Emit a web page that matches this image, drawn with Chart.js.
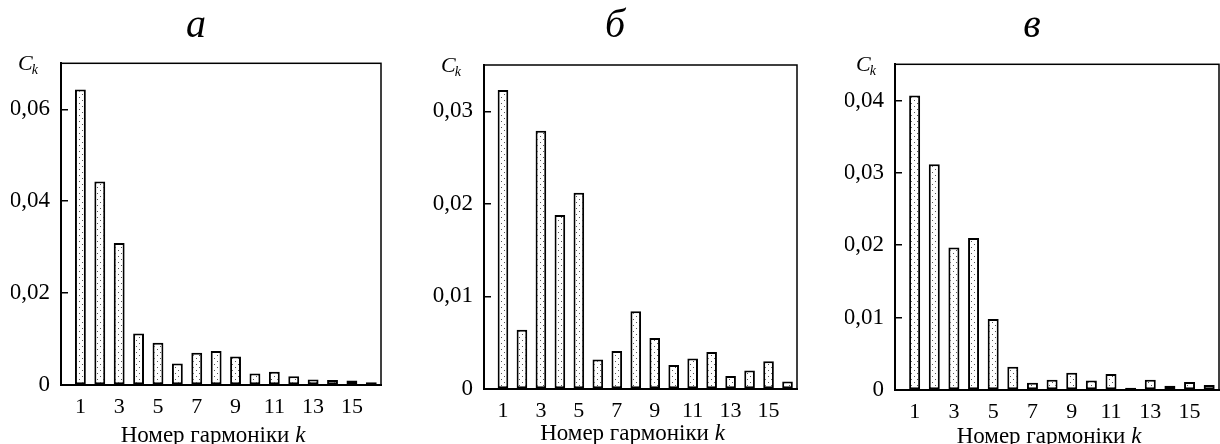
<!DOCTYPE html>
<html>
<head>
<meta charset="utf-8">
<script src="https://cdn.jsdelivr.net/npm/chart.js@4"></script>
<style>
  body { margin: 0; background: #fff; }
  .panel { position: absolute; top: 0; height: 444px; }
</style>
</head>
<body>
<div class="panel" style="left:0px;width:392px"><canvas id="chartA"></canvas></div>
<div class="panel" style="left:410px;width:410px"><canvas id="chartB"></canvas></div>
<div class="panel" style="left:844px;width:376px"><canvas id="chartC"></canvas></div>
<script>
// harmonic numbers k
const harmonics = [1, 2, 3, 4, 5, 6, 7, 8, 9, 10, 11, 12, 13, 14, 15, 16];
const xTickValues = [1, 3, 5, 7, 9, 11, 13, 15];

// amplitudes C_k
const valuesA = [0.0643, 0.0443, 0.0309, 0.0112, 0.0092, 0.0047, 0.0070, 0.0074,
                 0.0062, 0.0025, 0.0029, 0.0019, 0.0012, 0.0011, 0.0010, 0.0006];
const valuesB = [0.0323, 0.0064, 0.0279, 0.0188, 0.0212, 0.0032, 0.0041, 0.0084,
                 0.0055, 0.0026, 0.0033, 0.0040, 0.0014, 0.0020, 0.0030, 0.0008];
const valuesC = [0.0407, 0.0312, 0.0197, 0.0210, 0.0098, 0.0032, 0.0010, 0.0014,
                 0.0024, 0.0013, 0.0022, 0.0003, 0.0014, 0.0006, 0.0011, 0.0007];

const yTicksA = [0, 0.02, 0.04, 0.06];
const yTicksB = [0, 0.01, 0.02, 0.03];
const yTicksC = [0, 0.01, 0.02, 0.03, 0.04];

const titles = ['а', 'б', 'в'];
const xTitle = 'Номер гармоніки ';
const xTitleVar = 'k';

const SERIF = "'Liberation Serif', 'Times New Roman', serif";

// dotted fill used for the bars
function makeDotPattern() {
    const c = document.createElement('canvas');
    c.width = 6;
    c.height = 6;
    const g = c.getContext('2d');
    g.fillStyle = '#fff';
    g.fillRect(0, 0, 6, 6);
    g.fillStyle = '#555';
    g.fillRect(1, 1, 1, 1);
    g.fillRect(4, 4, 1, 1);
    return g.createPattern(c, 'repeat');
}

// frame round the plot, C_k label and the x axis title
const decorPlugin = {
    id: 'decor',
    afterDraw(chart, args, opts) {
        const ctx = chart.ctx;
        const a = chart.chartArea;
        ctx.save();
        ctx.strokeStyle = '#000';
        ctx.lineWidth = 1.5;
        ctx.strokeRect(a.left, a.top, a.right - a.left, a.bottom - a.top);

        // C_k
        ctx.fillStyle = '#000';
        ctx.textBaseline = 'alphabetic';
        ctx.textAlign = 'left';
        ctx.font = 'italic 22px ' + SERIF;
        const wc = ctx.measureText('C').width;
        ctx.font = 'italic 14px ' + SERIF;
        const wk = ctx.measureText('k').width;
        const cx = a.left - opts.ckGap - wc - wk;
        ctx.font = 'italic 22px ' + SERIF;
        ctx.fillText('C', cx, opts.ckBase);
        ctx.font = 'italic 14px ' + SERIF;
        ctx.fillText('k', cx + wc - 1, opts.ckBase + 4);

        // x axis title
        ctx.font = '23px ' + SERIF;
        const w1 = ctx.measureText(xTitle).width;
        ctx.font = 'italic 23px ' + SERIF;
        const w2 = ctx.measureText(xTitleVar).width;
        const mid = (a.left + a.right) / 2 - 8;
        const x0 = mid - (w1 + w2) / 2;
        ctx.font = '23px ' + SERIF;
        ctx.fillText(xTitle, x0, chart.height - opts.titleLift);
        ctx.font = 'italic 23px ' + SERIF;
        ctx.fillText(xTitleVar, x0 + w1, chart.height - opts.titleLift);
        ctx.restore();
    }
};

function makeChart(id, title, values, yTicks, yMax, lay) {
    const ctx = document.getElementById(id).getContext('2d');
    return new Chart(ctx, {
        type: 'bar',
        data: {
            datasets: [{
                data: harmonics.map((k, i) => ({ x: k, y: values[i] })),
                backgroundColor: makeDotPattern(),
                borderColor: '#000',
                borderWidth: 2,
                borderSkipped: false,
                barPercentage: 0.56,
                categoryPercentage: 1.0
            }]
        },
        options: {
            responsive: true,
            maintainAspectRatio: false,
            animation: false,
            layout: { padding: { left: lay.left, right: lay.right, top: 0, bottom: 0 } },
            plugins: {
                legend: { display: false },
                tooltip: { enabled: false },
                title: {
                    display: true,
                    text: title,
                    color: '#000',
                    font: { family: SERIF, size: 40, style: 'italic', weight: 'normal', lineHeight: 1.2 },
                    padding: { top: 2, bottom: lay.titleBottom }
                },
                decor: { ckGap: lay.ckGap, ckBase: lay.ckBase, titleLift: lay.titleLift }
            },
            scales: {
                x: {
                    type: 'linear',
                    position: 'bottom',
                    offset: false,
                    min: 0,
                    max: 16.5,
                    afterBuildTicks: (s) => { s.ticks = xTickValues.map(v => ({ value: v })); },
                    afterFit: (s) => { s.height = lay.xHeight; },
                    grid: { display: false, drawTicks: false, offset: false },
                    border: { display: true, color: '#000', width: 2 },
                    ticks: {
                        color: '#000',
                        padding: 9,
                        maxRotation: 0,
                        autoSkip: false,
                        font: { family: SERIF, size: 22 }
                    }
                },
                y: {
                    min: 0,
                    max: yMax,
                    afterBuildTicks: (s) => { s.ticks = yTicks.map(v => ({ value: v })); },
                    afterFit: (s) => { s.width = lay.yWidth; },
                    grid: { drawOnChartArea: false, drawTicks: true, tickLength: -7, color: '#000', lineWidth: 1.5 },
                    border: { display: true, color: '#000', width: 2 },
                    ticks: {
                        color: '#000',
                        padding: 18,
                        font: { family: SERIF, size: 23 },
                        callback: (v) => v === 0 ? '0' : v.toFixed(2).replace('.', ',')
                    }
                }
            }
        },
        plugins: [decorPlugin]
    });
}

makeChart('chartA', titles[0], valuesA, yTicksA, 0.07,
    { left: 11, right: 11, yWidth: 50, xHeight: 59, titleBottom: 13.3, ckGap: 22, ckBase: 70, titleLift: 2 });
makeChart('chartB', titles[1], valuesB, yTicksB, 0.035,
    { left: 23, right: 23, yWidth: 51, xHeight: 55, titleBottom: 15, ckGap: 22, ckBase: 72, titleLift: 4 });
makeChart('chartC', titles[2], valuesC, yTicksC, 0.045,
    { left: 1, right: 1, yWidth: 50, xHeight: 54, titleBottom: 14.3, ckGap: 18, ckBase: 71, titleLift: 1 });
</script>
</body>
</html>
